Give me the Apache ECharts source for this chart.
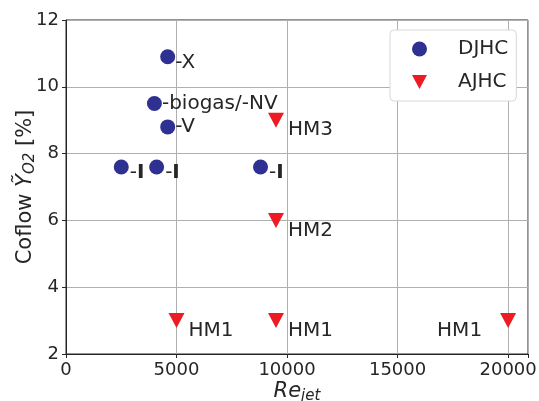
<!DOCTYPE html>
<html><head><meta charset="utf-8">
<script src="https://cdn.jsdelivr.net/npm/echarts@6/dist/echarts.min.js"></script>
<style>html,body{margin:0;padding:0;background:#fff}#c{width:539px;height:401px}</style>
</head><body><div id="c"></div>
<script>
// DJHC (circles)
const djhcRe = [4600, 4000, 4600, 2500, 4100, 8800];
const djhcY = [10.9, 9.5, 8.8, 7.6, 7.6, 7.6];
const djhcLabels = ['-X', '-biogas/-NV', '-V', '-I', '-I', '-I'];
// AJHC (triangles)
const ajhcRe = [9500, 9500, 5000, 9500, 20000];
const ajhcY = [9, 6, 3, 3, 3];
const ajhcLabels = ['HM3', 'HM2', 'HM1', 'HM1', 'HM1'];
const xTicks = [0, 5000, 10000, 15000, 20000];
const yTicks = [2, 4, 6, 8, 10, 12];

const FONT = 'DejaVu Sans';
const TXT = '#262626';
const tri = 'path://M0,0 L16,0 L8,15 Z';

const djhcData = djhcRe.map((x, i) => {
  const lab = djhcLabels[i];
  const isI = lab === '-I';
  return {
    value: [x, djhcY[i]],
    label: {
      show: true,
      position: 'right',
      distance: isI ? 1 : 0,
      offset: isI ? [0, 6] : (i === 0 ? [0, 6] : [0, 0]),
      formatter: isI ? '{n|-}{b|I}' : lab,
      rich: { n: { fontFamily: FONT, fontSize: 20, color: TXT }, b: { fontFamily: FONT, fontSize: 20, fontWeight: 'bold', color: TXT } }
    }
  };
});
const ajhcData = ajhcRe.map((x, i) => {
  const left = x >= 15000;
  return {
    value: [x, ajhcY[i]],
    label: {
      show: true,
      position: left ? 'left' : 'right',
      distance: left ? 18 : 4,
      offset: [0, 10],
      formatter: ajhcLabels[i]
    }
  };
});

const chart = echarts.init(document.getElementById('c'), null, { renderer: 'canvas' });
chart.setOption({
  animation: false,
  backgroundColor: '#fff',
  textStyle: { fontFamily: FONT },
  grid: { left: 66, right: 11, top: 20, bottom: 47, containLabel: false, outerBoundsMode: 'none',
    show: true, borderColor: TXT, borderWidth: 1, backgroundColor: 'transparent' },
  legend: {
    left: 390, top: 30, orient: 'vertical',
    padding: [9, 8, 9, 22], itemGap: 13, itemWidth: 15, itemHeight: 15,
    backgroundColor: '#fff', borderColor: '#d8d8d8', borderWidth: 1, borderRadius: 4,
    textStyle: { fontFamily: FONT, fontSize: 20, color: TXT, padding: [0, 0, 0, 26] },
    data: [{ name: 'DJHC', icon: 'circle' }, { name: 'AJHC', icon: tri }]
  },
  xAxis: {
    type: 'value', min: 0, max: 20900, interval: 5000,
    axisLine: { show: true, lineStyle: { color: TXT } },
    axisTick: { show: true, length: 4, lineStyle: { color: TXT } },
    axisLabel: { fontFamily: FONT, fontSize: 18, color: TXT, margin: 7, showMaxLabel: true,
      formatter: v => xTicks.includes(v) ? String(v) : '' },
    splitLine: { show: true, lineStyle: { color: '#b0b0b0', width: 1 } },
    name: '{i|Re}{s|jet}', nameLocation: 'middle', nameGap: 25, nameMoveOverlap: false,
    nameTextStyle: { rich: {
      i: { fontFamily: FONT, fontStyle: 'italic', fontSize: 21, color: TXT },
      s: { fontFamily: FONT, fontStyle: 'italic', fontSize: 15, color: TXT, padding: [10, 0, 0, 0] }
    } }
  },
  yAxis: {
    type: 'value', min: 2, max: 12, interval: 2,
    axisLine: { show: true, lineStyle: { color: TXT } },
    axisTick: { show: true, length: 4, lineStyle: { color: TXT } },
    axisLabel: { fontFamily: FONT, fontSize: 18, color: TXT, margin: 7,
      formatter: v => yTicks.includes(v) ? String(v) : '' },
    splitLine: { show: true, lineStyle: { color: '#b0b0b0', width: 1 } },
    name: '{a|Coflow }{i|Ỹ}{s|O2}{a| [%]}', nameLocation: 'middle', nameGap: 28, nameRotate: 90, nameMoveOverlap: false,
    nameTextStyle: { rich: {
      a: { fontFamily: FONT, fontSize: 21, color: TXT },
      i: { fontFamily: FONT, fontStyle: 'italic', fontSize: 21, color: TXT },
      s: { fontFamily: FONT, fontStyle: 'italic', fontSize: 15, color: TXT, padding: [10, 0, 0, 0] }
    } }
  },
  series: [
    { name: 'DJHC', type: 'scatter', symbol: 'circle', symbolSize: 15,
      itemStyle: { color: '#2e3192', opacity: 1 },
      label: { fontFamily: FONT, fontSize: 20, color: TXT },
      data: djhcData, z: 3 },
    { name: 'AJHC', type: 'scatter', symbol: tri, symbolSize: [16, 15],
      itemStyle: { color: '#ed1c24', opacity: 1 },
      label: { fontFamily: FONT, fontSize: 20, color: TXT },
      data: ajhcData, z: 3 }
  ]
});
</script></body></html>
